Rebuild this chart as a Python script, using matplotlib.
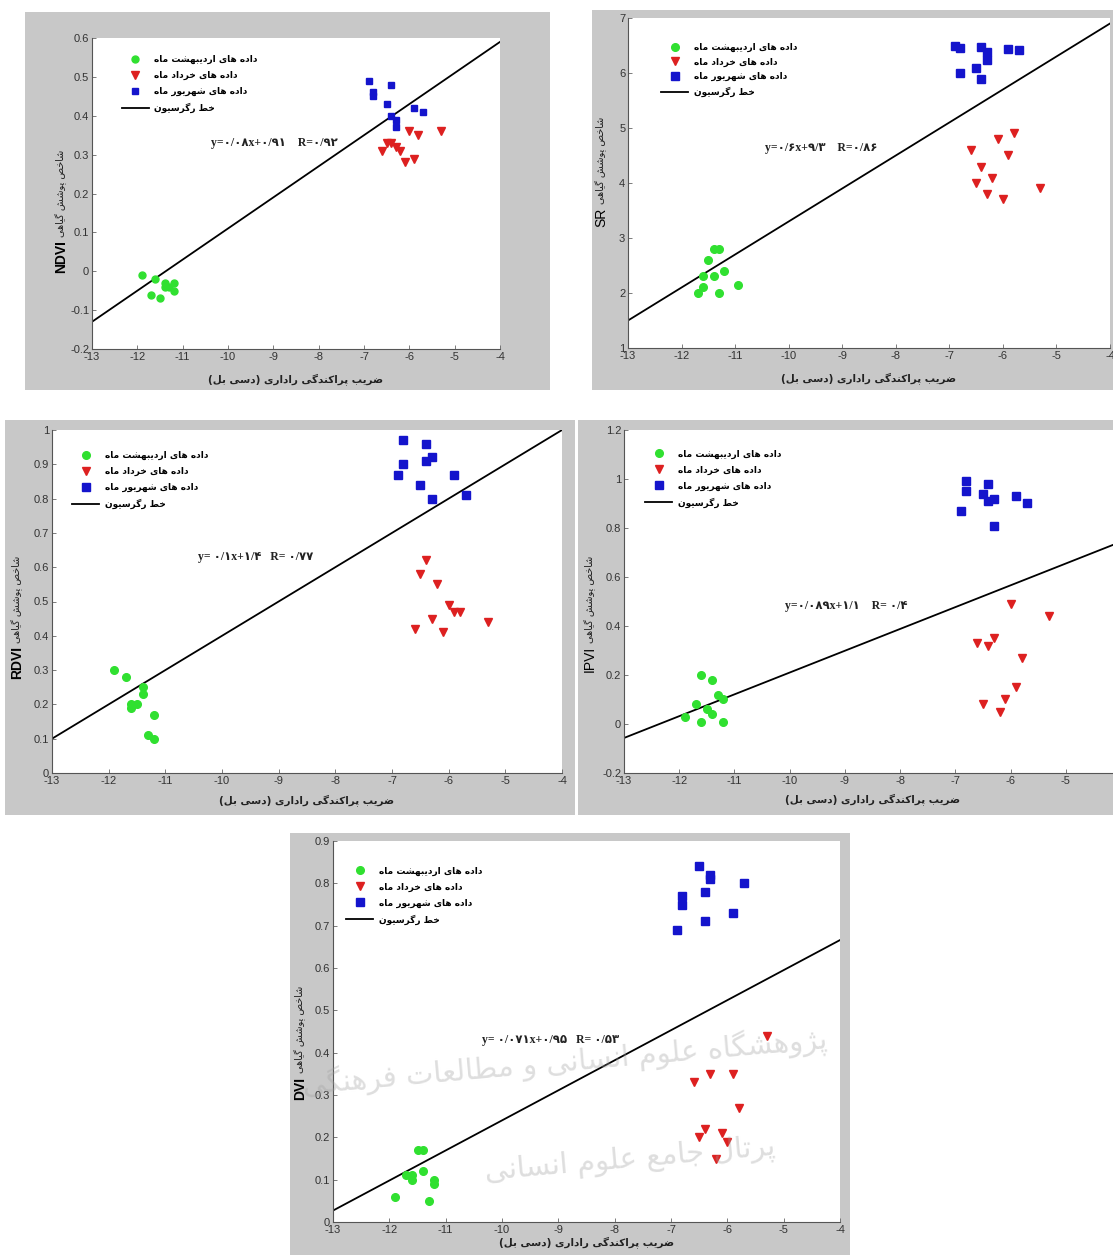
import numpy as np
import matplotlib.pyplot as plt
from matplotlib.patches import Rectangle

# ---------------- data ----------------
x_ticks = [-13, -12, -11, -10, -9, -8, -7, -6, -5, -4]

# NDVI
ndvi_ord_x = [-11.9, -11.6, -11.7, -11.5, -11.4, -11.4, -11.3, -11.2, -11.2]
ndvi_ord_y = [-0.01, -0.02, -0.06, -0.07, -0.03, -0.04, -0.04, -0.03, -0.05]
ndvi_kho_x = [-6.6, -6.5, -6.4, -6.3, -6.2, -6.1, -6.0, -5.9, -5.8, -5.3]
ndvi_kho_y = [0.31, 0.33, 0.33, 0.32, 0.31, 0.28, 0.36, 0.29, 0.35, 0.36]
ndvi_sha_x = [-6.9, -6.8, -6.8, -6.5, -6.4, -6.4, -6.3, -6.3, -5.9, -5.7]
ndvi_sha_y = [0.49, 0.46, 0.45, 0.43, 0.48, 0.40, 0.39, 0.37, 0.42, 0.41]
ndvi_fit = (0.08, 0.91)
ndvi_yticks = [-0.2, -0.1, 0, 0.1, 0.2, 0.3, 0.4, 0.5, 0.6]
ndvi_eq = 'y=0/08x+0/91    R=0/92'

# SR
sr_ord_x = [-11.7, -11.6, -11.6, -11.5, -11.4, -11.3, -11.4, -11.2, -11.3, -10.95]
sr_ord_y = [2.0, 2.1, 2.3, 2.6, 2.8, 2.8, 2.3, 2.4, 2.0, 2.15]
sr_kho_x = [-6.6, -6.5, -6.4, -6.3, -6.2, -6.1, -6.0, -5.9, -5.8, -5.3]
sr_kho_y = [4.6, 4.0, 4.3, 3.8, 4.1, 4.8, 3.7, 4.5, 4.9, 3.9]
sr_sha_x = [-6.9, -6.8, -6.8, -6.5, -6.4, -6.4, -6.3, -6.3, -5.9, -5.7]
sr_sha_y = [6.5, 6.46, 6.0, 6.1, 6.48, 5.9, 6.38, 6.23, 6.44, 6.42]
sr_fit = (0.6, 9.3)
sr_yticks = [1, 2, 3, 4, 5, 6, 7]
sr_eq = 'y=0/6x+9/3    R=0/86'

# RDVI
rdvi_ord_x = [-11.9, -11.7, -11.4, -11.4, -11.6, -11.6, -11.5, -11.2, -11.3, -11.2]
rdvi_ord_y = [0.30, 0.28, 0.25, 0.23, 0.20, 0.19, 0.20, 0.17, 0.11, 0.10]
rdvi_kho_x = [-6.6, -6.5, -6.4, -6.3, -6.2, -6.1, -6.0, -5.9, -5.8, -5.3]
rdvi_kho_y = [0.42, 0.58, 0.62, 0.45, 0.55, 0.41, 0.49, 0.47, 0.47, 0.44]
rdvi_sha_x = [-6.9, -6.8, -6.8, -6.5, -6.4, -6.4, -6.3, -6.3, -5.9, -5.7]
rdvi_sha_y = [0.87, 0.97, 0.90, 0.84, 0.96, 0.91, 0.92, 0.80, 0.87, 0.81]
rdvi_fit = (0.1, 1.4)
rdvi_yticks = [0, 0.1, 0.2, 0.3, 0.4, 0.5, 0.6, 0.7, 0.8, 0.9, 1]
rdvi_eq = 'y= 0/1x+1/4   R= 0/77'

# IPVI
ipvi_ord_x = [-11.9, -11.7, -11.6, -11.6, -11.5, -11.4, -11.4, -11.3, -11.2, -11.2]
ipvi_ord_y = [0.03, 0.08, 0.20, 0.01, 0.06, 0.18, 0.04, 0.12, 0.10, 0.01]
ipvi_kho_x = [-6.6, -6.5, -6.4, -6.3, -6.2, -6.1, -6.0, -5.9, -5.8, -5.3]
ipvi_kho_y = [0.33, 0.08, 0.32, 0.35, 0.05, 0.10, 0.49, 0.15, 0.27, 0.44]
ipvi_sha_x = [-6.9, -6.8, -6.8, -6.5, -6.4, -6.4, -6.3, -6.3, -5.9, -5.7]
ipvi_sha_y = [0.87, 0.99, 0.95, 0.94, 0.98, 0.91, 0.92, 0.81, 0.93, 0.90]
ipvi_fit = (0.089, 1.1)
ipvi_yticks = [-0.2, 0, 0.2, 0.4, 0.6, 0.8, 1, 1.2]
ipvi_eq = 'y=0/089x+1/1    R= 0/4'

# DVI
dvi_ord_x = [-11.9, -11.7, -11.6, -11.6, -11.5, -11.4, -11.4, -11.3, -11.2, -11.2]
dvi_ord_y = [0.06, 0.11, 0.11, 0.10, 0.17, 0.17, 0.12, 0.05, 0.10, 0.09]
dvi_kho_x = [-6.6, -6.5, -6.4, -6.3, -6.2, -6.1, -6.0, -5.9, -5.8, -5.3]
dvi_kho_y = [0.33, 0.20, 0.22, 0.35, 0.15, 0.21, 0.19, 0.35, 0.27, 0.44]
dvi_sha_x = [-6.9, -6.8, -6.8, -6.5, -6.4, -6.4, -6.3, -6.3, -5.9, -5.7]
dvi_sha_y = [0.69, 0.77, 0.75, 0.84, 0.78, 0.71, 0.82, 0.81, 0.73, 0.80]
dvi_fit = (0.071, 0.95)
dvi_yticks = [0, 0.1, 0.2, 0.3, 0.4, 0.5, 0.6, 0.7, 0.8, 0.9]
dvi_eq = 'y= 0/071x+0/95   R= 0/53'

# texts
lbl_ord = 'داده های اردیبهشت ماه'
lbl_kho = 'داده های خرداد ماه'
lbl_sha = 'داده های شهریور ماه'
lbl_fit = 'خط رگرسیون'
xlabel_fa = 'ضریب پراکندگی راداری (دسی بل)'
ylabel_fa = 'شاخص پوشش گیاهی'
wm_line1 = 'پژوهشگاه علوم انسانی و مطالعات فرهنگی'
wm_line2 = 'پرتال جامع علوم انسانی'

# ---------------- persian shaping (no bidi lib available) ----------------
FORMS = {
    'ا': ('\ufe8d', '\ufe8e', None, None),
    'ب': ('\ufe8f', '\ufe90', '\ufe91', '\ufe92'),
    'پ': ('\ufb56', '\ufb57', '\ufb58', '\ufb59'),
    'ت': ('\ufe95', '\ufe96', '\ufe97', '\ufe98'),
    'ج': ('\ufe9d', '\ufe9e', '\ufe9f', '\ufea0'),
    'خ': ('\ufea5', '\ufea6', '\ufea7', '\ufea8'),
    'د': ('\ufea9', '\ufeaa', None, None),
    'ر': ('\ufead', '\ufeae', None, None),
    'ژ': ('\ufb8a', '\ufb8b', None, None),
    'س': ('\ufeb1', '\ufeb2', '\ufeb3', '\ufeb4'),
    'ش': ('\ufeb5', '\ufeb6', '\ufeb7', '\ufeb8'),
    'ص': ('\ufeb9', '\ufeba', '\ufebb', '\ufebc'),
    'ض': ('\ufebd', '\ufebe', '\ufebf', '\ufec0'),
    'ط': ('\ufec1', '\ufec2', '\ufec3', '\ufec4'),
    'ع': ('\ufec9', '\ufeca', '\ufecb', '\ufecc'),
    'ف': ('\ufed1', '\ufed2', '\ufed3', '\ufed4'),
    'ک': ('\ufb8e', '\ufb8f', '\ufb90', '\ufb91'),
    'گ': ('\ufb92', '\ufb93', '\ufb94', '\ufb95'),
    'ل': ('\ufedd', '\ufede', '\ufedf', '\ufee0'),
    'م': ('\ufee1', '\ufee2', '\ufee3', '\ufee4'),
    'ن': ('\ufee5', '\ufee6', '\ufee7', '\ufee8'),
    'ه': ('\ufee9', '\ufeea', '\ufeeb', '\ufeec'),
    'و': ('\ufeed', '\ufeee', None, None),
    'ی': ('\ufbfc', '\ufbfd', '\ufbfe', '\ufbff'),
}


def shape(text):
    out = []
    for i, c in enumerate(text):
        if c not in FORMS:
            out.append(c)
            continue
        prev = text[i - 1] if i > 0 else None
        nxt = text[i + 1] if i + 1 < len(text) else None
        jp = prev in FORMS and FORMS[prev][2] is not None
        jn = FORMS[c][2] is not None and nxt in FORMS
        iso, fin, ini, med = FORMS[c]
        out.append(med if (jp and jn) else fin if jp else ini if jn else iso)
    mirror = {'(': ')', ')': '('}
    return ''.join(mirror.get(c, c) for c in reversed(out))


def fa_digits(s):
    return s.translate(str.maketrans('0123456789', '۰۱۲۳۴۵۶۷۸۹'))


# ---------------- figure ----------------
W, H = 1113, 1255
fig = plt.figure(figsize=(W / 100, H / 100), dpi=100)
fig.patch.set_facecolor('white')

GREEN, RED, BLUE = '#30e030', '#dd2020', '#1414cc'
FA = 'DejaVu Sans'


def px(x0, y0, x1, y1):
    return [x0 / W, 1 - y1 / H, (x1 - x0) / W, (y1 - y0) / H]


def panel(gray, box, ylim, yticks, data, fit, name, name_bold, eq, eq_pos,
          leg_pos, leg_sp, ylab_x, ylab_split, ms, xpad):
    g = px(*gray)
    fig.add_artist(Rectangle((g[0], g[1]), g[2], g[3], transform=fig.transFigure,
                             facecolor='#c8c8c8', edgecolor='none', zorder=-5))
    ax = fig.add_axes(px(*box))
    ax.set_facecolor('white')
    ox, oy, kx, ky, sx, sy = data
    ax.plot(ox, oy, 'o', color=GREEN, ms=ms, mec=GREEN, label=shape(lbl_ord), zorder=3)
    ax.plot(kx, ky, 'v', color=RED, ms=ms + 0.5, mec=RED, label=shape(lbl_kho), zorder=3)
    ax.plot(sx, sy, 's', color=BLUE, ms=ms - 0.3, mec=BLUE, label=shape(lbl_sha), zorder=3)
    lx = np.array([x_ticks[0], x_ticks[-1]])
    ax.plot(lx, fit[0] * lx + fit[1], '-', color='black', lw=1.3, label=shape(lbl_fit), zorder=2)

    ax.set_xlim(x_ticks[0], x_ticks[-1])
    ax.set_ylim(*ylim)
    ax.set_xticks(x_ticks)
    ax.set_xticklabels(['{:g}'.format(v) for v in x_ticks])
    ax.set_yticks(yticks)
    ax.set_yticklabels(['{:g}'.format(v) for v in yticks])
    for s in ('top', 'right'):
        ax.spines[s].set_visible(False)
    for s in ('left', 'bottom'):
        ax.spines[s].set_color('#555555')
        ax.spines[s].set_linewidth(0.8)
    ax.tick_params(direction='in', length=3, width=0.6, color='#666666',
                   labelsize=8, labelcolor='#333333', pad=2)
    for t in ax.get_xticklabels() + ax.get_yticklabels():
        t.set_family('Liberation Sans')

    ax.set_xlabel(shape(xlabel_fa), family=FA, fontsize=7.5, fontweight='bold',
                  color='#222222', labelpad=xpad)
    ax.text(ylab_x, ylab_split, name, transform=ax.transAxes, rotation=90,
            ha='center', va='top', fontsize=10,
            fontweight='bold' if name_bold else 'normal', family='Liberation Sans')
    ax.text(ylab_x, ylab_split + 0.01, shape(ylabel_fa), transform=ax.transAxes,
            rotation=90, ha='center', va='bottom', fontsize=7, family=FA, color='#222222')

    ax.text(eq_pos[0], eq_pos[1], fa_digits(eq), transform=ax.transAxes,
            ha='center', va='center', fontsize=8.5, fontweight='bold',
            family=['Liberation Serif', 'DejaVu Sans'], color='#222222')

    ax.legend(loc='upper left', bbox_to_anchor=leg_pos, frameon=False, numpoints=1,
              handlelength=3.0, handletextpad=0.6, labelspacing=leg_sp,
              borderpad=0, borderaxespad=0,
              prop={'family': FA, 'weight': 'bold', 'size': 6.5})
    return ax


panel((25, 12, 550, 390), (92, 38, 500, 349), (-0.2, 0.6), ndvi_yticks,
      (ndvi_ord_x, ndvi_ord_y, ndvi_kho_x, ndvi_kho_y, ndvi_sha_x, ndvi_sha_y),
      ndvi_fit, 'NDVI', True, ndvi_eq, (0.446, 0.662), (0.073, 0.945), 0.75,
      -0.075, 0.35, 5, 8)

panel((592, 10, 1113, 390), (628, 18, 1110, 348), (1, 7), sr_yticks,
      (sr_ord_x, sr_ord_y, sr_kho_x, sr_kho_y, sr_sha_x, sr_sha_y),
      sr_fit, 'SR', False, sr_eq, (0.40, 0.606), (0.069, 0.924), 0.6,
      -0.055, 0.425, 5.5, 8)

panel((5, 420, 575, 815), (52, 430, 562, 773), (0, 1), rdvi_yticks,
      (rdvi_ord_x, rdvi_ord_y, rdvi_kho_x, rdvi_kho_y, rdvi_sha_x, rdvi_sha_y),
      rdvi_fit, 'RDVI', True, rdvi_eq, (0.40, 0.63), (0.04, 0.938), 0.75,
      -0.068, 0.37, 5.5, 6)

panel((578, 420, 1113, 815), (624, 430, 1121, 773), (-0.2, 1.2), ipvi_yticks,
      (ipvi_ord_x, ipvi_ord_y, ipvi_kho_x, ipvi_kho_y, ipvi_sha_x, ipvi_sha_y),
      ipvi_fit, 'IPVI', False, ipvi_eq, (0.448, 0.488), (0.043, 0.943), 0.75,
      -0.068, 0.37, 5.5, 5)

panel((290, 833, 850, 1255), (333, 841, 840, 1222), (0, 0.9), dvi_yticks,
      (dvi_ord_x, dvi_ord_y, dvi_kho_x, dvi_kho_y, dvi_sha_x, dvi_sha_y),
      dvi_fit, 'DVI', True, dvi_eq, (0.43, 0.478), (0.026, 0.933), 0.75,
      -0.065, 0.38, 5.5, 1)

# faint watermark of the source site
fig.text(565 / W, 1 - 1062 / H, shape(wm_line1), ha='center', va='center',
         fontsize=21, family=FA, color='#a0a0a0', alpha=0.35, rotation=5, zorder=10)
fig.text(630 / W, 1 - 1160 / H, shape(wm_line2), ha='center', va='center',
         fontsize=21, family=FA, color='#a0a0a0', alpha=0.35, rotation=5, zorder=10)

fig.savefig('out.png', dpi=100, facecolor='white')
